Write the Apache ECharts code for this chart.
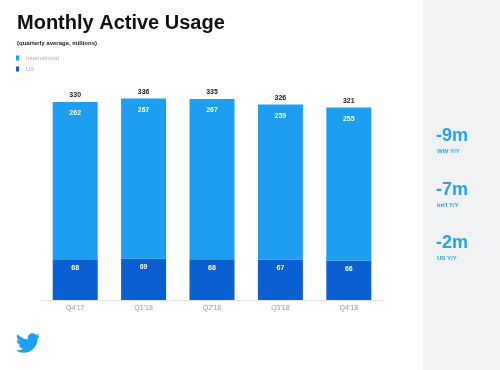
<!DOCTYPE html>
<html><head><meta charset="utf-8">
<script src="https://cdn.jsdelivr.net/npm/echarts@6/dist/echarts.min.js"></script>
<style>html,body{margin:0;padding:0;background:#fff}#c{width:500px;height:370px}</style>
</head><body><div id="c"></div>
<script>
const categories = ["Q4'17", "Q1'18", "Q2'18", "Q3'18", "Q4'18"];
const international = [262, 267, 267, 259, 255];
const us = [68, 69, 68, 67, 66];
const totals = [330, 336, 335, 326, 321];
const sideValues = ["-9m", "-7m", "-2m"];
const sideLabels = ["WW Y/Y", "Int'l Y/Y", "US Y/Y"];

const FONT = "Liberation Sans, Arial, sans-serif";
const birdPath = "M23.953 4.57 a10 10 0 0 1 -2.825 .775 a4.958 4.958 0 0 0 2.163 -2.723 c-.951 .555 -2.005 .959 -3.127 1.184 a4.92 4.92 0 0 0 -8.384 4.482 C7.69 8.095 4.067 6.13 1.64 3.162 a4.822 4.822 0 0 0 -.666 2.475 c0 1.71 .87 3.213 2.188 4.096 a4.904 4.904 0 0 1 -2.228 -.616 v.06 a4.923 4.923 0 0 0 3.946 4.827 a4.996 4.996 0 0 1 -2.212 .085 a4.936 4.936 0 0 0 4.604 3.417 a9.867 9.867 0 0 1 -6.102 2.105 c-.39 0 -.779 -.023 -1.17 -.067 a13.995 13.995 0 0 0 7.557 2.209 c9.053 0 13.998 -7.496 13.998 -13.985 c0 -.21 0 -.42 -.015 -.63 A9.935 9.935 0 0 0 24 4.59 z";
try {
  echarts.graphic.registerShape('twbird', echarts.graphic.extendPath(birdPath, {}));
} catch (e) {}

const sideGraphics = [];
const sideY = [127, 181, 234];
sideValues.forEach((v, i) => {
  sideGraphics.push({type: 'text', x: 436, y: sideY[i], style: {text: v, fill: '#27a2ee', font: 'bold 18px ' + FONT}});
  sideGraphics.push({type: 'text', x: 437, y: sideY[i] + 21, style: {text: sideLabels[i], fill: '#27a2ee', font: 'bold 6px ' + FONT}});
});

const chart = echarts.init(document.getElementById('c'), null, {renderer: 'canvas'});
chart.setOption({
  animation: false,
  backgroundColor: '#fff',
  title: [
    {text: 'Monthly Active Usage', left: 12, top: 8, textStyle: {fontFamily: FONT, fontSize: 20, fontWeight: 'bold', color: '#111'}},
    {text: '(quarterly average, millions)', left: 12, top: 35, textStyle: {fontFamily: FONT, fontSize: 6, fontWeight: 'bold', color: '#222'}}
  ],
  legend: {
    data: ['International', 'US'], orient: 'vertical', left: 11, top: 50,
    itemWidth: 3, itemHeight: 5, itemGap: 5, icon: 'rect',
    textStyle: {fontFamily: FONT, fontSize: 6, color: '#b0b0b0', padding: [0, 0, 0, 2]}
  },
  graphic: [
    {type: 'rect', shape: {x: 423, y: 0, width: 77, height: 370}, style: {fill: '#f1f2f4'}, z: -1},
    {type: 'twbird', x: 16, y: 331, style: {fill: '#1da1f2'}}
  ].concat(sideGraphics),
  grid: {left: 41, right: 117, top: 60, bottom: 70},
  xAxis: {
    type: 'category', data: categories,
    axisLine: {lineStyle: {color: '#e3e3e3'}}, axisTick: {show: false},
    axisLabel: {fontFamily: FONT, fontSize: 7, color: '#999', margin: 5}
  },
  yAxis: {type: 'value', min: 0, max: 400, show: false, splitLine: {show: false}},
  series: [
    {name: 'US', type: 'bar', stack: 'a', data: us, barWidth: 45,
     itemStyle: {color: '#0a60d0'},
     label: {show: true, position: 'insideTop', distance: 5, color: '#fff', fontFamily: FONT, fontSize: 7, fontWeight: 'bold'}},
    {name: 'International', type: 'bar', stack: 'a', data: international, barWidth: 45,
     itemStyle: {color: '#1d9ef0'},
     label: {show: true, position: 'insideTop', distance: 8, color: '#fff', fontFamily: FONT, fontSize: 7, fontWeight: 'bold'}},
    {name: 'Total', type: 'bar', data: totals, barWidth: 45, barGap: '-100%', z: 0,
     itemStyle: {color: 'rgba(0,0,0,0)'},
     label: {show: true, position: 'top', distance: 3, color: '#222', fontFamily: FONT, fontSize: 7, fontWeight: 'bold'}}
  ]
});
</script></body></html>
